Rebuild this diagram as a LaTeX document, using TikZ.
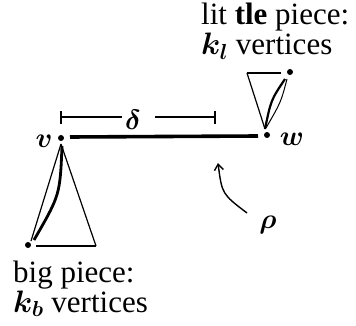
\documentclass[tikz,border=0pt]{standalone}
\usepackage{fix-cm}
\usepackage{bm}
\usepackage{fontspec}
\setmainfont{Liberation Serif}
\usetikzlibrary{arrows.meta}
\tikzset{
  dotv/.style={circle,fill=black,inner sep=0pt,minimum size=6pt},
  lbl/.style={inner sep=0pt,font=\fontsize{31}{30}\selectfont},
  mlbl/.style={inner sep=0pt,font=\fontsize{28}{28}\selectfont\boldmath},
  thin/.style={line width=1.2pt},
  heavy/.style={line width=3.6pt},
}
\begin{document}
\begin{tikzpicture}[x=1pt,y=-1pt]
\useasboundingbox (0,0) rectangle (356,326);
% vertices
\node[dotv] (v) at (61,138) {};
\node[dotv] (w) at (267,135) {};
\node[mlbl] (vl) at (44,141) {$v$};
\node[mlbl] (wl) at (292,139) {$w$};
% path
\coordinate (p1) at (70,137);
\coordinate (p2) at (258,136);
\draw[heavy] (p1) -- (p2);
% delta
\coordinate (d1) at (61,117);
\coordinate (d2) at (215,117);
\node[mlbl] (dl) at (133,120) {$\delta$};
\draw[thin] (61,111) -- (61,124) (215,111) -- (215,124);
\draw[thin] (d1) -- (122,117);
\draw[thin] (155,117) -- (d2);
% big piece
\node[dotv] (b) at (28,245) {};
\coordinate (ba) at (61,144);
\coordinate (br) at (96,246);
\draw[thin] (ba) -- (31,241);
\draw[line width=2.8pt] (62,146) .. controls (60,195) .. (34,240);
\draw[thin] (ba) -- (br);
\draw[thin] (36,246) -- (br);
% little piece
\node[dotv] (l) at (290,72) {};
\coordinate (la) at (265,129);
\coordinate (lt) at (247,73);
\draw[thin] (lt) -- (281,73);
\draw[thin] (lt) -- (la);
\draw[line width=2.2pt] (la) .. controls (271,100) .. (285,79);
\draw[line width=1pt] (266,128) .. controls (281,102) .. (287,79);
% rho arrow
\coordinate (r1) at (247,213);
\coordinate (r2) at (218,163);
\draw[line width=1.4pt,-{Straight Barb[length=6pt,width=9pt]}] (r1) .. controls (222,194) .. (r2);
\node[mlbl] (rl) at (268,225) {$\rho$};
% texts
\node[lbl,anchor=base west] (t1) at (201,25) {lit \textbf{tle} piece:};
\node[lbl,anchor=base west] (t2) at (201,55) {$\bm{k_l}$ vertices};
\node[lbl,anchor=base west] (t3) at (13,282) {big piece:};
\node[lbl,anchor=base west] (t4) at (13,312) {$\bm{k_b}$ vertices};
\end{tikzpicture}
\end{document}
